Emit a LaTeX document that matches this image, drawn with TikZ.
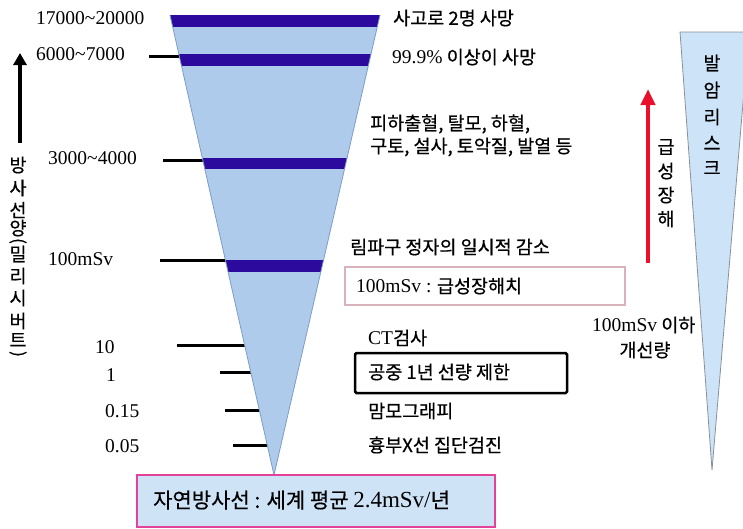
\documentclass[tikz,border=0pt]{standalone}
\usepackage{fontspec}
\setmainfont{Noto Sans CJK KR}[FakeBold=0.5]
\newfontfamily\ser{Liberation Serif}
\usetikzlibrary{arrows.meta}
\definecolor{tri}{HTML}{AECBEC}
\definecolor{triedge}{HTML}{7E9CC4}
\definecolor{band}{HTML}{2C0A9E}
\definecolor{rtri}{HTML}{CCE3F8}
\definecolor{rtriedge}{HTML}{8A9099}
\definecolor{mag}{HTML}{E4419A}
\definecolor{pinkb}{HTML}{D9B3BC}
\definecolor{redar}{HTML}{E8102A}
\definecolor{boxfill}{HTML}{CFE3F7}
\begin{document}
\begin{tikzpicture}[x=1pt,y=-1pt,
  lbl/.style={anchor=west,inner sep=0pt,font=\fontsize{18.5}{21}\selectfont},
  num/.style={anchor=west,inner sep=0pt,font=\ser\fontsize{19.5}{22}\selectfont},
  vch/.style={inner sep=0pt,font=\fontsize{18.5}{20}\selectfont},
  tickline/.style={line width=3pt,black},
  bandfill/.style={fill=band}
]
\useasboundingbox (0,0) rectangle (743,528);

% ---- tick lines (drawn under the triangle)
\coordinate (k1) at (149,56);
\coordinate (k2) at (163,160);
\coordinate (k3) at (160,260);
\coordinate (k4) at (177,345);
\coordinate (k5) at (220,372);
\coordinate (k6) at (225,410);
\coordinate (k7) at (233,445);
\draw[tickline] (k1) -- ++(40,0);
\draw[tickline] (k2) -- ++(50,0);
\draw[tickline] (k3) -- ++(75,0);
\draw[tickline] (k4) -- ++(75,0);
\draw[tickline] (k5) -- ++(40,0);
\draw[tickline] (k6) -- ++(40,0);
\draw[tickline] (k7) -- ++(40,0);

% ---- main inverted triangle
\coordinate (TL) at (170,15);
\coordinate (TR) at (380,15);
\coordinate (AP) at (274,475);
\fill[tri] (TL) -- (TR) -- (AP) -- cycle;
\begin{scope}
  \clip (TL) -- (TR) -- (AP) -- cycle;
  \fill[bandfill] (160,15) rectangle (390,27);
  \fill[bandfill] (160,54) rectangle (390,66);
  \fill[bandfill] (160,158) rectangle (390,169);
  \fill[bandfill] (160,260) rectangle (390,272);
\end{scope}
\draw[triedge,line width=0.8pt] (TL) -- (AP) -- (TR);

% ---- left labels
\node[num] (n1) at (36,18) {17000\textasciitilde20000};
\node[num] (n2) at (36,54) {6000\textasciitilde7000};
\node[num] (n3) at (48,158) {3000\textasciitilde4000};
\node[num] (n4) at (48,259) {100mSv};
\node[num] (n5) at (95,347) {10};
\node[num] (n6) at (106,375) {1};
\node[num] (n7) at (105,411) {0.15};
\node[num] (n8) at (105,446) {0.05};

% ---- left axis arrow and vertical title
\coordinate (la0) at (20,143);
\coordinate (la1) at (20,53);
\draw[line width=4.5pt,-{Triangle[width=13pt,length=12pt]}] (la0) -- (la1);
\foreach \c/\yy [count=\i] in {방/165,사/188,선/210,양/228,밀/254,리/276,시/298,버/321,트/340}
  \node[vch] (v\i) at (18,\yy) {\c};
\node[inner sep=0pt,rotate=-90,font=\fontsize{17}{20}\selectfont] (vp1) at (18,241) {(};
\node[inner sep=0pt,rotate=-90,font=\fontsize{17}{20}\selectfont] (vp2) at (18,354) {)};

% ---- right texts
\node[lbl] (r1) at (393,18) {사고로 2명 사망};
\node[lbl] (r2) at (392,57) {{\ser\fontsize{19.5}{22}\selectfont 99.9\%} 이상이 사망};
\node[lbl] (r3) at (370,124) {피하출혈, 탈모, 하혈,};
\node[lbl] (r4) at (370,147) {구토, 설사, 토악질, 발열 등};
\node[lbl] (r5) at (350,247) {림파구 정자의 일시적 감소};

\node[draw=pinkb,line width=1.5pt,minimum width=280pt,minimum height=38pt,inner sep=0pt] (pb) at (485,286) {};
\node[lbl] (pbt) at (356,286) {{\ser\fontsize{19.5}{22}\selectfont 100mSv :} 급성장해치};

\node[lbl] (ct) at (368,338) {{\ser\fontsize{19.5}{22}\selectfont CT}검사};
\node[draw=black,line width=2.5pt,rounded corners=1.5pt,minimum width=212pt,minimum height=40pt,inner sep=0pt] (bb) at (461,373) {};
\node[lbl] (bbt) at (368,372) {공중 1년 선량 제한};
\node[lbl] (mm) at (368,411) {맘모그래피};
\node[lbl] (xr) at (368,445) {흉부X선 집단검진};

% ---- bottom box
\node[draw=mag,fill=boxfill,line width=2.5pt,minimum width=358pt,minimum height=52pt,inner sep=0pt] (bot) at (316,501) {};
\node[anchor=west,inner sep=0pt,font=\fontsize{21}{24}\selectfont] (bott) at (153,500)
  {자연방사선 : 세계 평균 {\ser\fontsize{23}{26}\selectfont 2.4mSv/}년};

% ---- right triangle
\begin{scope}
  \clip (0,0) rectangle (743,528);
  \coordinate (RL) at (680,32);
  \coordinate (RR) at (749,32);
  \coordinate (RA) at (712,470);
  \fill[rtri] (RL) -- (RR) -- (RA) -- cycle;
  \draw[rtriedge,line width=0.8pt] (RR) -- (RL) -- (RA) -- (RR);
\end{scope}
\foreach \c/\yy [count=\i] in {발/63,암/90,리/117,스/143,크/168}
  \node[vch] (w\i) at (712,\yy) {\c};

% ---- red arrow
\coordinate (ra0) at (648,263);
\coordinate (ra1) at (648,89);
\draw[redar,line width=4pt,-{Triangle[width=14pt,length=16pt]}] (ra0) -- (ra1);
\foreach \c/\yy [count=\i] in {급/147,성/171,장/195,해/219}
  \node[vch] (g\i) at (666,\yy) {\c};

\node[lbl] (lim) at (592,325) {{\ser\fontsize{19.5}{22}\selectfont 100mSv} 이하};
\node[inner sep=0pt,font=\fontsize{18.5}{21}\selectfont] (lim2) at (645,350) {개선량};
\end{tikzpicture}
\end{document}
